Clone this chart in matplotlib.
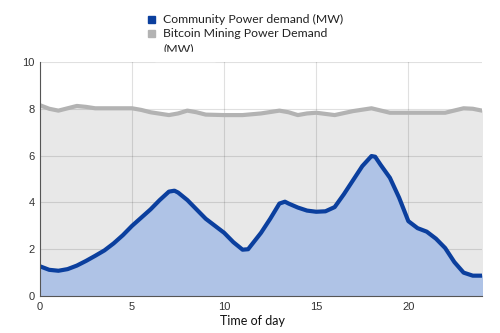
import matplotlib
matplotlib.use("Agg")
import matplotlib.pyplot as plt
from matplotlib.patches import Rectangle

# 数据
community_hours = [0, 0.5, 1, 1.5, 2, 2.5, 3, 3.5, 4, 4.5, 5, 5.5, 6, 6.5, 7, 7.3,
                   7.5, 8, 8.5, 9, 9.5, 10, 10.5, 11, 11.3, 11.5, 12, 12.5, 13,
                   13.3, 13.5, 14, 14.5, 15, 15.5, 16, 16.5, 17, 17.5, 18, 18.2,
                   18.5, 19, 19.5, 20, 20.5, 21, 21.5, 22, 22.5, 23, 23.5, 24]
community = [1.27, 1.12, 1.08, 1.15, 1.3, 1.5, 1.72, 1.95, 2.25, 2.6, 3.0, 3.35,
             3.7, 4.1, 4.46, 4.5, 4.42, 4.1, 3.7, 3.3, 3.0, 2.7, 2.3, 1.98, 2.0,
             2.2, 2.7, 3.3, 3.95, 4.03, 3.95, 3.78, 3.65, 3.6, 3.62, 3.8, 4.35,
             4.95, 5.55, 5.98, 5.95, 5.6, 5.05, 4.2, 3.2, 2.9, 2.75, 2.45, 2.05,
             1.45, 1.0, 0.87, 0.87]
bitcoin_hours = [0, 0.5, 1, 1.5, 2, 2.5, 3, 4, 5, 5.5, 6, 7, 7.5, 8, 8.5, 9, 10,
                 11, 12, 13, 13.5, 14, 14.5, 15, 15.5, 16, 17, 18, 19, 20, 22,
                 23, 23.5, 24]
bitcoin = [8.15, 8.0, 7.92, 8.02, 8.12, 8.08, 8.02, 8.02, 8.02, 7.95, 7.85, 7.73,
           7.8, 7.92, 7.85, 7.75, 7.73, 7.73, 7.8, 7.92, 7.85, 7.73, 7.8, 7.83,
           7.78, 7.73, 7.9, 8.02, 7.83, 7.83, 7.83, 8.02, 8.0, 7.92]
xticks = [0, 5, 10, 15, 20]
yticks = [0, 2, 4, 6, 8, 10]

BLUE = "#0b3f9e"
GRAY = "#b3b3b3"

plt.rcParams["font.family"] = ["Lato", "DejaVu Sans"]

fig = plt.figure(figsize=(5, 3.33), dpi=100)
ax = fig.add_axes([0.08, 0.111, 0.884, 0.703])

ax.fill_between(bitcoin_hours, bitcoin, color="#e8e8e8", zorder=1)
ax.plot(bitcoin_hours, bitcoin, color=GRAY, linewidth=3, solid_joinstyle="round",
        zorder=2)
ax.fill_between(community_hours, community, color="#afc3e6", zorder=3)
ax.plot(community_hours, community, color=BLUE, linewidth=3,
        solid_joinstyle="round", solid_capstyle="butt", zorder=5)

ax.set_xlim(0, 24)
ax.set_ylim(0, 10)
ax.set_xticks(xticks)
ax.set_yticks(yticks)
ax.grid(True, color="black", alpha=0.12, linewidth=0.8)
for gl in ax.get_xgridlines() + ax.get_ygridlines():
    gl.set_zorder(4)
for s in ["top", "right"]:
    ax.spines[s].set_visible(False)
ax.spines["left"].set_color("#555555")
ax.spines["bottom"].set_color("#555555")
ax.spines["left"].set_zorder(6)
ax.spines["bottom"].set_zorder(6)
ax.tick_params(length=0, labelsize=8, colors="#333333", pad=4)
for lab in ax.get_xticklabels() + ax.get_yticklabels():
    lab.set_family("Liberation Sans")
ax.set_xlabel("Time of day", fontsize=9, color="#111111")
ax.xaxis.set_label_coords(0.48, -0.083)

# 图例（手工绘制，第二项换行，第三行下半部分被遮住）
W, H = 500.0, 333.0
legend_items = [("Community Power demand (MW)", BLUE),
                ("Bitcoin Mining Power Demand", GRAY)]
for i, (text, col) in enumerate(legend_items):
    yc = 19.5 + 14 * i
    fig.patches.append(Rectangle((148 / W, 1 - (yc + 3.5) / H), 7 / W, 7 / H,
                                 transform=fig.transFigure, color=col))
    fig.text(163 / W, 1 - yc / H, text, fontsize=8.8, va="center", ha="left",
             color="#222222")
fig.text(163 / W, 1 - 48.5 / H, "(MW)", fontsize=8.8, va="center",
         ha="left", color="#222222")
cover = Rectangle((155 / W, 1 - 61 / H), 60 / W, 9 / H,
                  transform=fig.transFigure, color="white", zorder=10)
fig.add_artist(cover)

fig.savefig("out.png", dpi=100)
